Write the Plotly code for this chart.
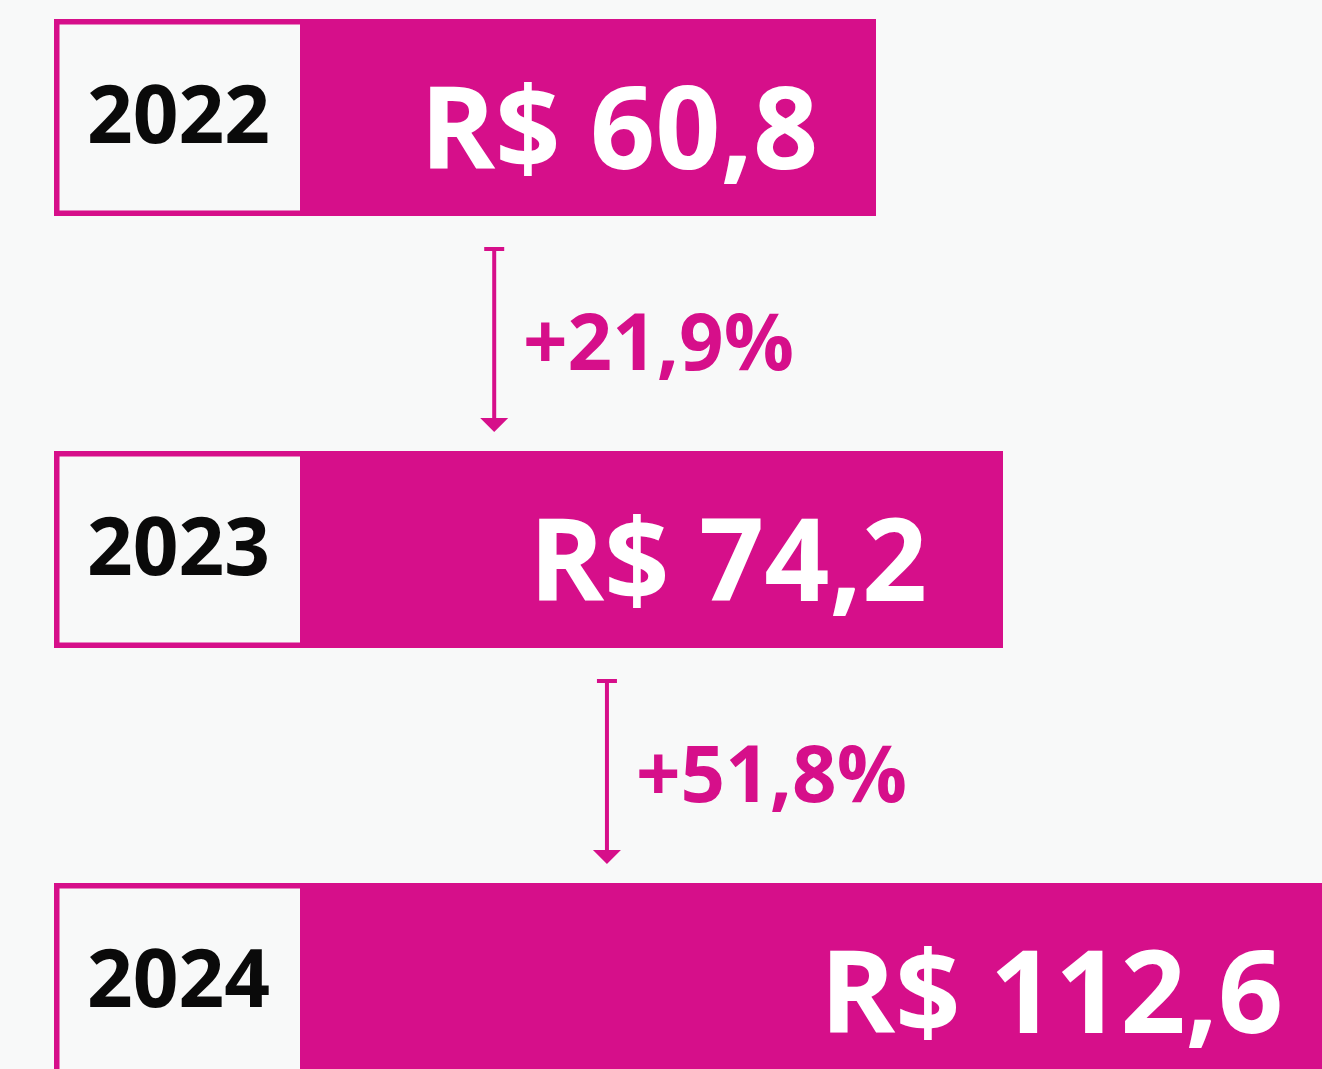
import plotly.graph_objects as go

# Annual amounts (R$) and year-over-year growth
years = ["2022", "2023", "2024"]
amounts = [60.8, 74.2, 112.6]
growth_pct = [21.9, 51.8]

MAGENTA = "#d60f8a"
BG = "#f8f9f9"
FONT = "Open Sans"

W, H = 1322, 1069
PX_PER_UNIT = 576 / 60.8          # horizontal scale
X_RANGE = [-300 / PX_PER_UNIT, (W - 300) / PX_PER_UNIT]
PITCH = 432                        # pixels between bar centres
Y_RANGE = [2 + (H - 981.5) / PITCH, -117.5 / PITCH]
BAR_W = 197 / PITCH

BOX_LEFT = -246 / PX_PER_UNIT      # left edge of the year boxes
BOX_LW = 5.5
LABEL_SHIFT = [-56, -74, -82]      # value label offset from bar end (px)
ARROW_X = [20.5, 32.4]             # arrow positions in axis units


def fmt_br(v, decimals=1):
    return f"{v:.{decimals}f}".replace(".", ",")


ypos = list(range(len(years)))

fig = go.Figure(
    go.Bar(
        x=amounts,
        y=ypos,
        orientation="h",
        width=BAR_W,
        marker=dict(color=MAGENTA, line=dict(width=0)),
        hoverinfo="skip",
    )
)

shapes = []
annotations = []

hx = BOX_LW / 2 / PX_PER_UNIT
hy = BOX_LW / 2 / PITCH
for i, (yr, val) in enumerate(zip(years, amounts)):
    # framed year box sitting left of the bar
    shapes.append(dict(
        type="rect", xref="x", yref="y", layer="below",
        x0=BOX_LEFT + hx, x1=0.4,
        y0=i - BAR_W / 2 + hy, y1=i + BAR_W / 2 - hy,
        line=dict(color=MAGENTA, width=BOX_LW), fillcolor=BG,
    ))
    annotations.append(dict(
        x=BOX_LEFT / 2, y=i, xref="x", yref="y", text=yr, showarrow=False,
        xanchor="center", yanchor="middle", xshift=1, yshift=6,
        font=dict(family=FONT, size=80, color="#0a0a0a", weight=700),
    ))
    # value label, right-aligned a little inside the bar end
    annotations.append(dict(
        x=val + LABEL_SHIFT[i] / PX_PER_UNIT, y=i, xref="x", yref="y",
        text=f"R$ {fmt_br(val)}", showarrow=False,
        xanchor="right", yanchor="middle", yshift=-7,
        font=dict(family=FONT, size=114, color="white", weight=700),
    ))

for i, g in enumerate(growth_pct):
    xa = ARROW_X[i]
    ya = i + 0.5
    common = dict(xref="x", yref="y", xsizemode="pixel", ysizemode="pixel",
                  xanchor=xa, yanchor=ya)
    # shaft
    shapes.append(dict(type="line", x0=0, x1=0, y0=84.5, y1=-86,
                       line=dict(color=MAGENTA, width=4), **common))
    # top cap
    shapes.append(dict(type="line", x0=-10, x1=10, y0=84.5, y1=84.5,
                       line=dict(color=MAGENTA, width=4), **common))
    # arrow head
    shapes.append(dict(type="path", path="M -14,-84.5 L 14,-84.5 L 0,-98.5 Z",
                       fillcolor=MAGENTA, line=dict(width=0), **common))
    annotations.append(dict(
        x=xa, y=ya, xref="x", yref="y", text=f"+{fmt_br(g)}%", showarrow=False,
        xanchor="left", yanchor="middle", xshift=27, yshift=-6,
        font=dict(family=FONT, size=78, color=MAGENTA, weight=700),
    ))

fig.update_layout(
    width=W, height=H,
    margin=dict(l=0, r=0, t=0, b=0),
    paper_bgcolor=BG, plot_bgcolor=BG,
    showlegend=False,
    xaxis=dict(range=X_RANGE, visible=False, fixedrange=True),
    yaxis=dict(range=Y_RANGE, visible=False, fixedrange=True),
    shapes=shapes,
    annotations=annotations,
    bargap=0,
)

fig.write_html("out.html", config=dict(displayModeBar=False))
